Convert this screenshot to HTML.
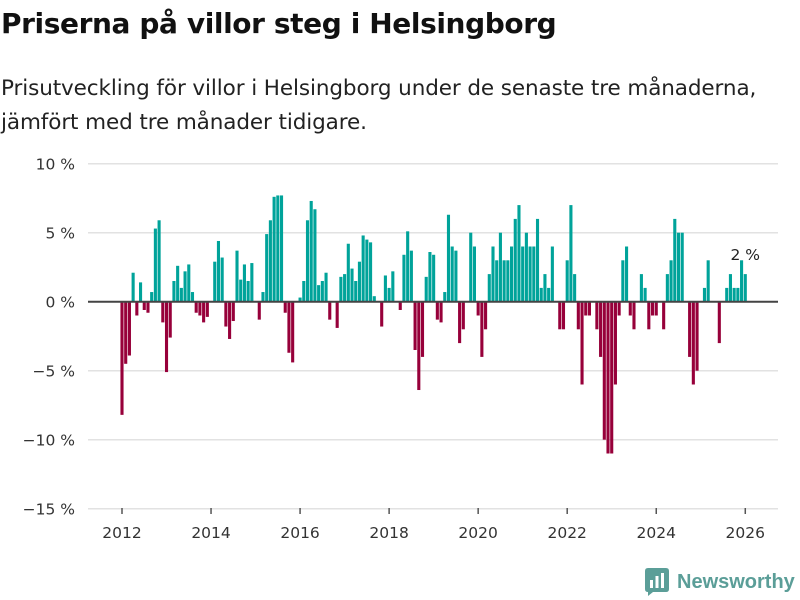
<!DOCTYPE html>
<html><head><meta charset="utf-8"><style>
body{margin:0;background:#fff;width:800px;height:600px;overflow:hidden;font-family:"DejaVu Sans",sans-serif;}
#title{position:absolute;left:1px;top:7px;font-size:28px;font-weight:bold;color:#111;margin:0;letter-spacing:-0.4px;font-family:"DejaVu Sans",sans-serif;white-space:nowrap}
#sub{position:absolute;left:1px;top:72px;font-size:21.5px;line-height:34px;color:#222;width:799px;font-family:"DejaVu Sans",sans-serif;white-space:nowrap;letter-spacing:-0.1px}
svg{position:absolute;left:0;top:0}
</style></head><body>
<h1 id="title">Priserna på villor steg i Helsingborg</h1>
<div id="sub">Prisutveckling för villor i Helsingborg under de senaste tre månaderna,<br>jämfört med tre månader tidigare.</div>
<svg id="chart" width="800" height="600"></svg>
<script>
const values = [-8.2,-4.5,-3.9,2.1,-1.0,1.4,-0.6,-0.8,0.7,5.3,5.9,-1.5,
-5.1,-2.6,1.5,2.6,1.0,2.2,2.7,0.7,-0.8,-1.0,-1.5,-1.1,
0,2.9,4.4,3.2,-1.8,-2.7,-1.4,3.7,1.6,2.7,1.5,2.8,
0,-1.3,0.7,4.9,5.9,7.6,7.7,7.7,-0.8,-3.7,-4.4,0,
0.3,1.5,5.9,7.3,6.7,1.2,1.5,2.1,-1.3,0,-1.9,1.8,
2.0,4.2,2.4,1.5,2.9,4.8,4.5,4.3,0.4,0,-1.8,1.9,
1.0,2.2,0,-0.6,3.4,5.1,3.7,-3.5,-6.4,-4.0,1.8,3.6,
3.4,-1.3,-1.5,0.7,6.3,4.0,3.7,-3.0,-2.0,0,5.0,4.0,
-1,-4,-2,2,4,3,5,3,3,4,6,7,
4,5,4,4,6,1,2,1,4,0,-2,-2,
3,7,2,-2,-6,-1,-1,0,-2,-4,-10,-11,
-11,-6,-1,3,4,-1,-2,0,2,1,-2,-1,
-1,0,-2,2,3,6,5,5,0,-4,-6,-5,
0,1,3,0,0,-3,0,1,2,1,1,3,2];
const yTicks = [10,5,0,-5,-10,-15];
const yTickLabels = ["10 %","5 %","0 %","\u22125 %","\u221210 %","\u221215 %"];
const xTicks = [2012,2014,2016,2018,2020,2022,2024,2026];
const startYear = 2012;
const lastLabel = "2 %";

const NS="http://www.w3.org/2000/svg";
const svg=document.getElementById('chart');
const x0=122, pxPerMonth=3.71;
const y = v => 301.7 - v*13.8;
const xm = m => x0 + m*pxPerMonth;
const FF='DejaVu Sans, sans-serif';
function el(t,a){const e=document.createElementNS(NS,t);for(const k in a)e.setAttribute(k,a[k]);svg.appendChild(e);return e;}

yTicks.forEach((t,i)=>{
  if(t!==0){const g=el('line',{x1:88,x2:778,y1:y(t),y2:y(t),stroke:'#e2e2e2','stroke-width':1.5});
  
  }
  const tx=el('text',{x:75,y:y(t)+6,'text-anchor':'end','font-size':15.5,fill:'#333','font-family':FF});
  tx.textContent=yTickLabels[i];
  
  
});
xTicks.forEach(yr=>{
  const xx=xm((yr-startYear)*12);
  const tk=el('line',{x1:xx,x2:xx,y1:508,y2:514,stroke:'#555','stroke-width':1.5});
  
  
  const tx=el('text',{x:xx,y:538,'text-anchor':'middle','font-size':15.5,fill:'#333','font-family':FF});
  tx.textContent=yr;
  
  
});
values.forEach((v,m)=>{
  if(v===0)return;
  const cx=xm(m);
  const top=v>0?y(v):y(0), h=Math.abs(y(v)-y(0));
  const r=el('rect',{x:cx-1.55,y:top,width:3.1,height:h,fill:v>0?'#00a39a':'#97003a'});
  
  
});
const z=el('line',{x1:88,x2:778,y1:y(0),y2:y(0),stroke:'#444','stroke-width':2});


const last=values.length-1;
const lb=el('text',{x:xm(last),y:y(values[last])-14,'text-anchor':'middle','font-size':15.5,fill:'#222','font-family':FF});
lb.textContent=lastLabel;


</script>
<div style="position:absolute;left:645px;top:568px;display:flex;align-items:center;">
<svg width="24" height="28" viewBox="0 0 24 28" style="position:static"><path d="M0 3 Q0 0 3 0 H21 Q24 0 24 3 V21 Q24 24 21 24 H8 L3 28 V24 Q0 24 0 21Z" fill="#5b9e98"/><rect x="5" y="12" width="3" height="8" fill="#fff"/><rect x="10.5" y="8" width="3" height="12" fill="#fff"/><rect x="16" y="5" width="3" height="15" fill="#fff"/></svg>
<span style="margin-left:8px;font-size:20px;font-weight:bold;color:#5b9e98;font-family:'Liberation Sans',sans-serif">Newsworthy</span>
</div>
</body></html>
